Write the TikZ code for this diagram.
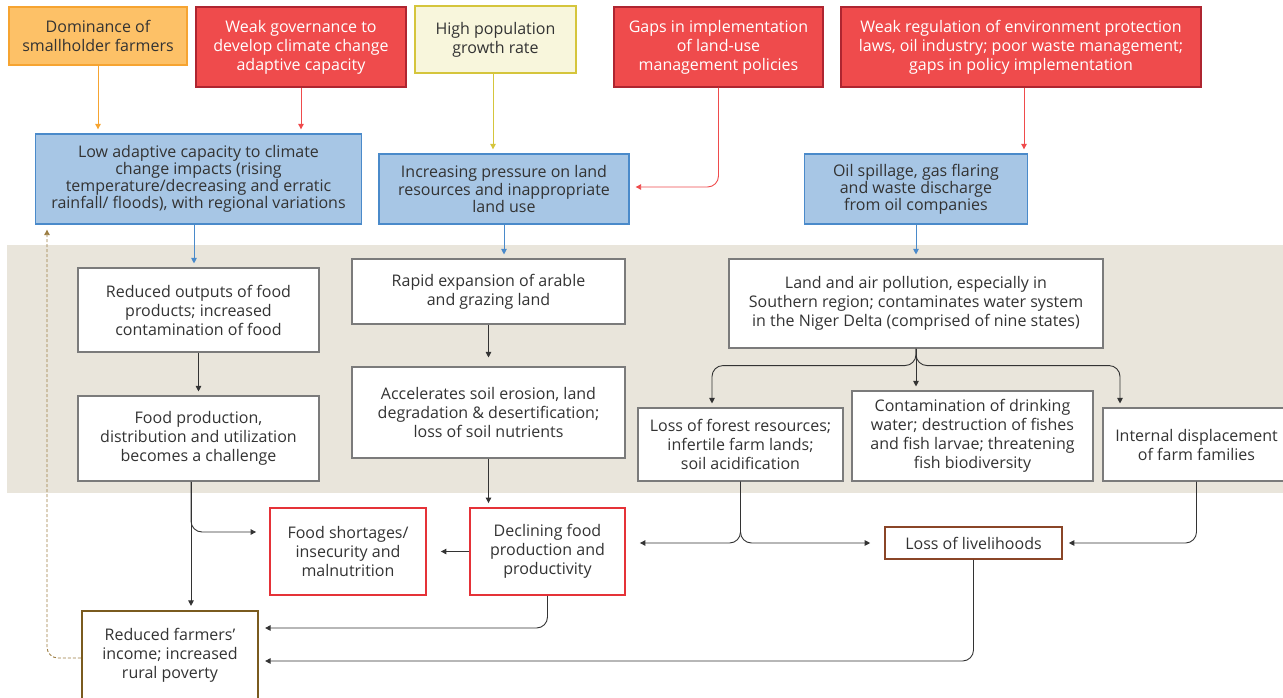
\documentclass[tikz,border=0pt]{standalone}
\usepackage{fontspec}
\setmainfont{Open Sans}
\usetikzlibrary{arrows.meta}

\definecolor{txt}{HTML}{333333}
\definecolor{bandc}{HTML}{E9E5DB}
\definecolor{bluefill}{HTML}{A7C6E5}
\definecolor{blueline}{HTML}{4A8ACA}
\definecolor{redfill}{HTML}{EF4B4C}
\definecolor{redline}{HTML}{AE2530}
\definecolor{orfill}{HTML}{FDC167}
\definecolor{orline}{HTML}{F6A431}
\definecolor{crfill}{HTML}{F8F6DC}
\definecolor{crline}{HTML}{D5C53C}
\definecolor{grayline}{HTML}{7B7B7B}
\definecolor{alarm}{HTML}{E53238}
\definecolor{livline}{HTML}{8A4527}
\definecolor{incline}{HTML}{7A5B1F}
\definecolor{dashc}{HTML}{9C7E42}

\begin{document}
\begin{tikzpicture}[x=1pt,y=-1pt,
  every node/.style={font=\fontsize{16}{19}\selectfont, text=txt, align=center, inner sep=0pt},
  basebox/.style={rectangle, draw, line width=1.3pt},
  orangebox/.style={basebox, fill=orfill, draw=orline},
  redbox/.style={basebox, fill=redfill, draw=redline, text=white},
  creambox/.style={basebox, fill=crfill, draw=crline},
  bluebox/.style={basebox, fill=bluefill, draw=blueline, font=\fontsize{16}{17.2}\selectfont},
  whitebox/.style={basebox, fill=white, draw=grayline, line width=1.1pt},
  alarmbox/.style={basebox, fill=white, draw=alarm, line width=1.8pt},
  livbox/.style={basebox, fill=white, draw=livline, line width=1.6pt},
  incbox/.style={basebox, fill=white, draw=incline, line width=2.2pt},
  arr/.style={line width=0.9pt, -{Triangle[length=5.5pt,width=5.5pt]}, shorten >=4pt},
  dark/.style={arr, draw=txt},
  curved/.style={rounded corners=11pt}
]
\useasboundingbox (0,0) rectangle (1283,697);

% shaded band behind the middle tier
\fill[bandc] (7,245) rectangle (1290,493);

% root causes
\node[orangebox, minimum width=178pt, minimum height=58pt] (dom) at (98,36) {Dominance of\\smallholder farmers};
\node[redbox, minimum width=210pt, minimum height=80pt] (gov) at (301,47) {Weak governance to\\develop climate change\\adaptive capacity};
\node[creambox, minimum width=161pt, minimum height=67pt] (pop) at (495.5,39.5) {High population\\growth rate};
\node[redbox, minimum width=209pt, minimum height=80pt] (gaps) at (718.5,47) {Gaps in implementation\\of land-use\\management policies};
\node[redbox, minimum width=360pt, minimum height=80pt] (reg) at (1021,47) {Weak regulation of environment protection\\laws, oil industry; poor waste management;\\gaps in policy implementation};

% pressures
\node[bluebox, minimum width=326pt, minimum height=90pt] (clim) at (198.5,179) {Low adaptive capacity to climate\\change impacts (rising\\temperature/decreasing and erratic\\rainfall/ floods), with regional variations};
\node[bluebox, minimum width=250pt, minimum height=70pt] (land) at (504,189) {Increasing pressure on land\\resources and inappropriate\\land use};
\node[bluebox, minimum width=223pt, minimum height=70pt] (oil) at (916,189) {Oil spillage, gas flaring\\and waste discharge\\from oil companies};

% direct effects
\node[whitebox, minimum width=241pt, minimum height=84pt] (outs) at (198.5,310) {Reduced outputs of food\\products; increased\\contamination of food};
\node[whitebox, minimum width=273pt, minimum height=65pt] (expand) at (488.5,291.5) {Rapid expansion of arable\\and grazing land};
\node[whitebox, minimum width=374pt, minimum height=89pt] (pol) at (916,303.5) {Land and air pollution, especially in\\Southern region; contaminates water system\\in the Niger Delta (comprised of nine states)};
\node[whitebox, minimum width=241pt, minimum height=85pt] (food) at (198.5,438.5) {Food production,\\distribution and utilization\\becomes a challenge};
\node[whitebox, minimum width=273pt, minimum height=91pt] (eros) at (488.5,412.5) {Accelerates soil erosion, land\\degradation \& desertification;\\loss of soil nutrients};
\node[whitebox, minimum width=205pt, minimum height=73pt] (forest) at (740.5,444.5) {Loss of forest resources;\\infertile farm lands;\\soil acidification};
\node[whitebox, minimum width=241pt, minimum height=90pt] (water) at (972.5,436) {Contamination of drinking\\water; destruction of fishes\\and fish larvae; threatening\\fish biodiversity};
\node[whitebox, minimum width=187pt, minimum height=73pt] (disp) at (1196.5,444.5) {Internal displacement\\of farm families};

% outcomes
\node[alarmbox, minimum width=156pt, minimum height=87pt] (short) at (348,551.5) {Food shortages/\\insecurity and\\malnutrition};
\node[alarmbox, minimum width=155pt, minimum height=87pt] (decl) at (547.5,551.5) {Declining food\\production and\\productivity};
\node[livbox, minimum width=177pt, minimum height=32pt] (liv) at (973.5,543) {Loss of livelihoods};
\node[incbox, minimum width=176pt, minimum height=88pt] (inc) at (170,655) {Reduced farmers’\\income; increased\\rural poverty};

% arrows from root causes
\draw[arr, draw=orline] (dom.south) -- (dom.south |- clim.north);
\draw[arr, draw=redfill] (gov.south) -- (gov.south |- clim.north);
\draw[arr, draw=crline] ([xshift=-2.5pt]pop.south) -- ([xshift=-2.5pt]pop.south |- land.north);
\draw[arr, draw=redfill, curved, shorten >=6pt] (gaps.south) |- ([yshift=2pt]land.east);
\draw[arr, draw=redfill] ([xshift=3pt]reg.south) -- ([xshift=3pt]reg.south |- oil.north);

% arrows from pressures
\draw[arr, draw=blueline] ([xshift=-4.5pt]clim.south) -- ([xshift=-4.5pt]outs.north);
\draw[arr, draw=blueline] (land.south) -- (land.south |- expand.north);
\draw[arr, draw=blueline] (oil.south) -- (pol.north);

% middle tier
\draw[dark] (outs.south) -- (food.north);
\draw[dark, shorten >=9pt] (expand.south) -- (eros.north);
\draw[dark, curved] (pol.south) -- ++(0,17) -| ([xshift=-28.5pt]forest.north);
\draw[dark] (pol.south) -- (pol.south |- water.north);
\draw[dark, curved] (pol.south) -- ++(0,17) -| ([xshift=-76.5pt]disp.north);

% towards the outcomes
\draw[dark, curved, shorten >=14pt] (forest.south) |- (decl.east |- liv.west);
\draw[dark, curved, shorten >=14pt] (forest.south) |- (liv.west);
\draw[dark, curved, shorten >=6pt] (disp.south) |- (liv.east);
\draw[dark] ([xshift=-7.5pt]food.south) -- ([xshift=-7.5pt]food.south |- inc.north);
\draw[dark, curved, shorten >=13pt] ([xshift=-7.5pt]food.south) -- ++(0,22) |- ([yshift=19.5pt]short.west);
\draw[dark] (eros.south) -- (eros.south |- decl.north);
\draw[dark, shorten >=14pt] (decl.west) -- (short.east);
\draw[dark, curved, shorten >=6pt] (decl.south) |- ([yshift=27pt]inc.east);
\draw[dark, curved, shorten >=6pt] (liv.south) |- ([yshift=-6pt]inc.east);

% feedback loop
\draw[arr, draw=dashc, dashed, dash pattern=on 3pt off 2pt, curved, shorten >=5pt]
  ([yshift=-3pt]inc.west) -| ([xshift=-151.5pt]clim.south);
\end{tikzpicture}
\end{document}
